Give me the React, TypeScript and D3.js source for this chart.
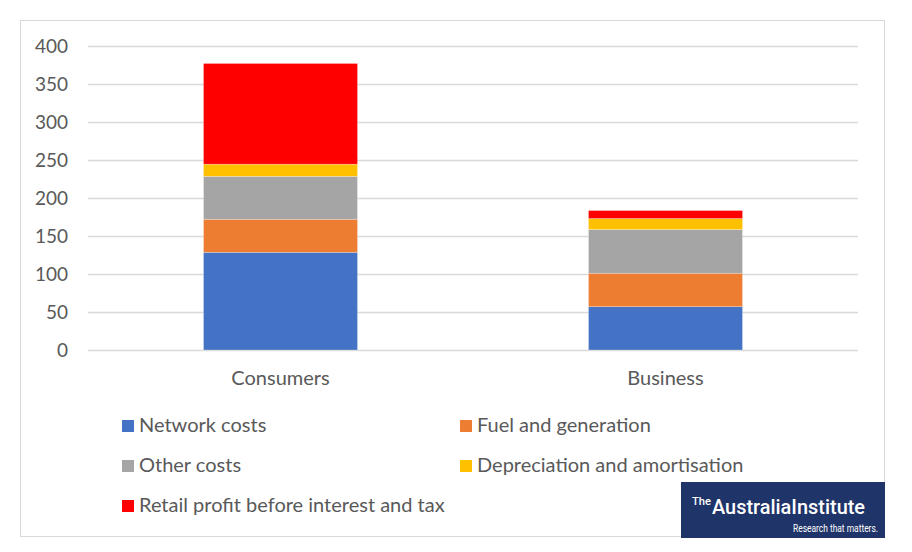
import React, { useEffect, useRef } from 'react';
import * as d3 from 'd3';

// Categories and stacked series
const categories = ['Consumers', 'Business'];
const seriesNames = [
  'Network costs',
  'Fuel and generation',
  'Other costs',
  'Depreciation and amortisation',
  'Retail profit before interest and tax',
];
const seriesColors = ['#4472c4', '#ed7d31', '#a5a5a5', '#ffc000', '#ff0000'];
const networkCosts = [128.5, 57];
const fuelGeneration = [43.5, 44];
const otherCosts = [56.5, 57.5];
const depreciation = [16, 14.5];
const retailProfit = [132.5, 10.5];
const yTicks = [0, 50, 100, 150, 200, 250, 300, 350, 400];

const W = 912;
const H = 552;
const FONT = 'Lato, "Open Sans", sans-serif';
const LOGO_FONT = 'Roboto, "Liberation Sans", sans-serif';
const TEXT = '#595959';

type Row = { category: string; [key: string]: number | string };

const App: React.FC = () => {
  const svgRef = useRef<SVGSVGElement>(null);

  useEffect(() => {
    document.body.style.margin = '0';
    if (!svgRef.current) return;
    const svg = d3.select(svgRef.current);
    svg.selectAll('*').remove();

    // chart frame
    svg.append('rect')
      .attr('x', 20.5).attr('y', 20.5)
      .attr('width', 864).attr('height', 516)
      .attr('fill', '#fff')
      .attr('stroke', '#d9d9d9')
      .attr('stroke-width', 1);

    const plot = { left: 88, right: 858, top: 46, bottom: 350 };

    const x = d3.scaleBand<string>()
      .domain(categories)
      .range([plot.left, plot.right])
      .paddingInner(0.6)
      .paddingOuter(0.3);

    const y = d3.scaleLinear()
      .domain([0, 400])
      .range([plot.bottom, plot.top]);

    // gridlines
    svg.append('g')
      .selectAll('line')
      .data(yTicks)
      .enter()
      .append('line')
      .attr('x1', plot.left)
      .attr('x2', plot.right)
      .attr('y1', d => Math.round(y(d)) + 0.5)
      .attr('y2', d => Math.round(y(d)) + 0.5)
      .attr('stroke', '#d9d9d9')
      .attr('stroke-width', 1.5);

    // y tick labels
    svg.append('g')
      .selectAll('text')
      .data(yTicks)
      .enter()
      .append('text')
      .attr('x', 68)
      .attr('y', d => y(d))
      .attr('dy', '0.35em')
      .attr('text-anchor', 'end')
      .attr('font-family', FONT)
      .attr('font-size', 19)
      .attr('fill', TEXT)
      .text(d => d);

    const seriesValues = [networkCosts, fuelGeneration, otherCosts, depreciation, retailProfit];
    const rows: Row[] = categories.map((c, i) => {
      const r: Row = { category: c };
      seriesNames.forEach((s, j) => { r[s] = seriesValues[j][i]; });
      return r;
    });

    const stacked = d3.stack<Row, string>()
      .keys(seriesNames)
      .value((d, key) => d[key] as number)(rows);

    const color = d3.scaleOrdinal<string, string>()
      .domain(seriesNames)
      .range(seriesColors);

    svg.append('g')
      .selectAll('g')
      .data(stacked)
      .enter()
      .append('g')
      .attr('fill', d => color(d.key))
      .selectAll('rect')
      .data(d => d)
      .enter()
      .append('rect')
      .attr('x', d => x(d.data.category) as number)
      .attr('width', x.bandwidth())
      .attr('y', d => y(d[1]))
      .attr('height', d => y(d[0]) - y(d[1]))
      .attr('stroke', '#ffffff')
      .attr('stroke-opacity', 0.35)
      .attr('stroke-width', 0.75);

    // category labels
    svg.append('g')
      .selectAll('text')
      .data(categories)
      .enter()
      .append('text')
      .attr('x', d => (x(d) as number) + x.bandwidth() / 2)
      .attr('y', 385)
      .attr('text-anchor', 'middle')
      .attr('font-family', FONT)
      .attr('font-size', 20)
      .attr('fill', TEXT)
      .text(d => d);

    // legend
    const legendPos = [
      [122, 420], [460, 420],
      [122, 460], [460, 460],
      [122, 500],
    ];
    const legend = svg.append('g')
      .selectAll('g')
      .data(seriesNames)
      .enter()
      .append('g')
      .attr('transform', (_, i) => `translate(${legendPos[i][0]},${legendPos[i][1]})`);
    legend.append('rect')
      .attr('width', 12).attr('height', 12)
      .attr('fill', d => color(d));
    legend.append('text')
      .attr('x', 17)
      .attr('y', 12)
      .attr('font-family', FONT)
      .attr('font-size', 20)
      .attr('fill', TEXT)
      .text(d => d);

    // logo
    const logo = svg.append('g');
    logo.append('rect')
      .attr('x', 681).attr('y', 482)
      .attr('width', 204).attr('height', 56)
      .attr('fill', '#1f3468');
    logo.append('text')
      .attr('x', 692).attr('y', 505)
      .attr('font-family', LOGO_FONT)
      .attr('font-size', 10)
      .attr('font-weight', 500)
      .attr('fill', '#fff')
      .attr('textLength', 19)
      .attr('lengthAdjust', 'spacingAndGlyphs')
      .text('The');
    logo.append('text')
      .attr('x', 712).attr('y', 514)
      .attr('font-family', LOGO_FONT)
      .attr('font-size', 21)
      .attr('font-weight', 500)
      .attr('fill', '#fff')
      .attr('textLength', 153)
      .attr('lengthAdjust', 'spacingAndGlyphs')
      .text('AustraliaInstitute');
    logo.append('text')
      .attr('x', 793).attr('y', 532)
      .attr('font-family', LOGO_FONT)
      .attr('font-size', 11)
      .attr('fill', '#fff')
      .attr('textLength', 85)
      .attr('lengthAdjust', 'spacingAndGlyphs')
      .text('Research that matters.');
  }, []);

  return (
    <svg ref={svgRef} width={W} height={H} style={{ display: 'block', background: '#fff' }} />
  );
};

export default App;
